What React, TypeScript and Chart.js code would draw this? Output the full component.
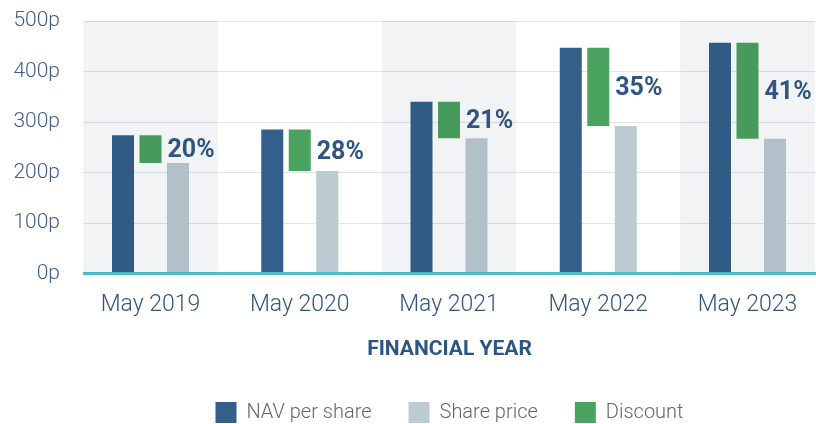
import React, { useEffect, useRef } from "react";
import { Chart, registerables } from "chart.js";
Chart.register(...registerables);

const categories = ["May 2019", "May 2020", "May 2021", "May 2022", "May 2023"];
const navPerShare = [274, 285, 340, 447, 457];
const sharePrice = [219, 203, 268, 292, 267];
const discountLabels = ["20%", "28%", "21%", "35%", "41%"];
const yMin = 0;
const yMax = 500;
const yStep = 100;

const NAV_COLOR = "#335f8a";
const SHARE_COLOR = "#bccad1";
const DISCOUNT_COLOR = "#4aa35e";

const bandPlugin = {
  id: "bands",
  afterLayout(chart: any) {
    const lg = chart.legend;
    if (lg) {
      lg.top += 9;
      lg.bottom += 9;
    }
  },
  afterDatasetsDraw(chart: any) {
    const { ctx, chartArea, scales } = chart;
    const xs = scales.x;
    const step = Math.abs(xs.getPixelForValue(1) - xs.getPixelForValue(0));
    const w = step * 0.9;
    ctx.save();
    ctx.beginPath();
    ctx.rect(chartArea.left, chartArea.top, chartArea.right - chartArea.left, chartArea.bottom - chartArea.top);
    ctx.clip();
    ctx.fillStyle = "rgba(0,20,60,0.05)";
    categories.forEach((_, i) => {
      if (i % 2 === 0) {
        const cx = xs.getPixelForValue(i);
        ctx.fillRect(cx - w / 2, chartArea.top, w, chartArea.bottom - chartArea.top);
      }
    });
    ctx.restore();

    // discount labels
    const meta = chart.getDatasetMeta(1);
    ctx.save();
    ctx.font = "bold 25px Roboto";
    ctx.fillStyle = "#2f5580";
    ctx.textAlign = "left";
    ctx.textBaseline = "middle";
    meta.data.forEach((bar: any, i: number) => {
      const x = bar.x + bar.width / 2 + 6;
      const y = (bar.y + bar.base) / 2 + 2;
      ctx.fillText(discountLabels[i], x, y);
    });
    ctx.restore();
  },
};

const legendOrder: Record<number, number> = { 0: 0, 2: 1, 1: 2 };

export default function App() {
  const ref = useRef<HTMLCanvasElement>(null);
  useEffect(() => {
    if (!ref.current) return;
    const chart = new Chart(ref.current, {
      type: "bar",
      data: {
        datasets: [
          {
            label: "NAV per share",
            data: categories.map((_, i) => ({ x: i, y: navPerShare[i] })),
            backgroundColor: NAV_COLOR,
            borderWidth: 0,
          },
          {
            label: "Discount",
            data: categories.map((_, i) => ({ x: i, y: [sharePrice[i], navPerShare[i]] })),
            backgroundColor: DISCOUNT_COLOR,
            borderWidth: 0,
          },
          {
            label: "Share price",
            data: categories.map((_, i) => ({ x: i, y: sharePrice[i] })),
            backgroundColor: SHARE_COLOR,
            borderWidth: 0,
          },
        ] as any,
      },
      options: {
        responsive: false,
        animation: false,
        devicePixelRatio: 1,
        layout: { padding: { top: 21, left: 0, right: 0, bottom: 0 } },
        datasets: {
          bar: { barPercentage: 0.8, categoryPercentage: 0.5528, grouped: true },
        } as any,
        plugins: {
          legend: {
            position: "bottom",
            fullSize: false,
            labels: {
              boxWidth: 21,
              boxHeight: 21,
              padding: 37,
              color: "#666666",
              font: { family: "Roboto", size: 20, weight: "300" as any },
              sort: (a: any, b: any) => legendOrder[a.datasetIndex] - legendOrder[b.datasetIndex],
            },
          },
          tooltip: { enabled: false },
        },
        scales: {
          x: {
            type: "linear",
            offset: false,
            min: -0.4523,
            max: 4.4589,
            afterBuildTicks: (scale: any) => {
              scale.ticks = categories.map((_, i) => ({ value: i }));
            },
            afterFit: (scale: any) => {
              scale.height = 82.4;
              scale.paddingLeft = 0;
              scale.paddingRight = 0;
            },
            grid: { display: false, drawTicks: false, offset: false },
            border: { display: false },
            ticks: {
              padding: 18,
              color: "#34557c",
              font: { family: "Roboto", size: 23, weight: "300" as any },
              callback: (v: any) => categories[Math.round(Number(v))] ?? "",
              maxRotation: 0,
              autoSkip: false,
            },
            title: {
              display: true,
              text: "FINANCIAL YEAR",
              color: "#2e5580",
              font: { family: "Roboto", size: 21, weight: "bold" },
              padding: { top: 0, bottom: -6 },
            },
          },
          y: {
            min: yMin,
            max: yMax,
            z: 1,
            afterFit: (scale: any) => {
              scale.width = 83;
              scale.paddingTop = 0;
              scale.paddingBottom = 0;
            },
            border: { display: false },
            grid: {
              drawTicks: false,
              color: (c: any) => (c.tick && c.tick.value === 0 ? "#4dbfcc" : "rgba(50,75,110,0.15)"),
              lineWidth: (c: any) => (c.tick && c.tick.value === 0 ? 3 : 1),
            },
            ticks: {
              stepSize: yStep,
              padding: 23,
              color: "#3f5f86",
              font: { family: "Roboto", size: 21, weight: "300" as any },
              callback: (v: any) => `${v}p`,
            },
          },
        },
      },
      plugins: [bandPlugin],
    });
    return () => chart.destroy();
  }, []);
  return (
    <div style={{ position: "absolute", left: 0, top: 0, width: 816, height: 424, background: "#fff" }}>
      <canvas ref={ref} width={816} height={424} style={{ display: "block" }} />
    </div>
  );
}
